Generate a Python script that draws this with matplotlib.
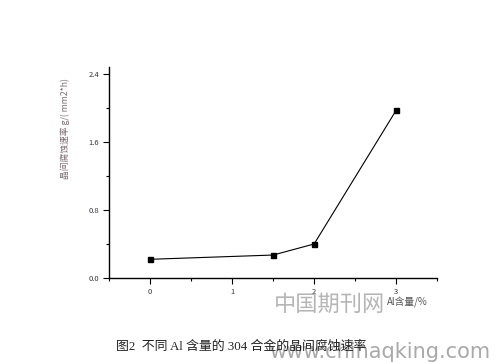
import numpy as np
import matplotlib
matplotlib.use("Agg")
import matplotlib.pyplot as plt

plt.rcParams["font.family"] = ["Noto Sans CJK SC", "DejaVu Sans"]

# Al含量 (%) 与 晶间腐蚀速率
al_content = [0, 1.5, 2, 3]
corrosion_rate = [0.22, 0.27, 0.40, 1.97]

fig = plt.figure(figsize=(5.03, 3.62), dpi=100)
ax = fig.add_axes([0.217, 0.232, 0.652, 0.583])

ax.plot(al_content, corrosion_rate, color="black", lw=0.8,
        marker="s", ms=3.6, mfc="black", mec="black")

ax.set_xlim(-0.49, 3.5)
ax.set_ylim(0, 2.48)
ax.set_xticks([0, 1, 2, 3])
ax.set_xticks(np.arange(-0.5, 3.51, 0.5), minor=True)
ax.set_yticks([0.0, 0.8, 1.6, 2.4])
ax.set_yticks(np.arange(0, 2.41, 0.4), minor=True)
ax.xaxis.set_major_formatter(plt.FuncFormatter(lambda v, p: f"{v:.0f}"))
ax.yaxis.set_major_formatter(plt.FuncFormatter(lambda v, p: f"{v:.1f}"))

for s in ["top", "right"]:
    ax.spines[s].set_visible(False)
for s in ["left", "bottom"]:
    ax.spines[s].set_linewidth(1.0)

ax.tick_params(axis="both", which="major", direction="out", length=4, width=0.8,
               labelsize=5.5, labelcolor="#333344", pad=3)
ax.tick_params(axis="both", which="minor", direction="out", length=2.5, width=0.8)

ax.set_ylabel("晶间腐蚀速率 g/( mm2*h)", fontsize=6.3, color="#7a6a70", labelpad=4)
ax.yaxis.set_label_coords(-0.12, 0.71)

fig.text(0.77, 0.155, "Al含量/%", fontsize=7, color="#555555", ha="left")

# watermark
fig.text(0.545, 0.14, "中国期刊网", fontsize=16, color="#a8a8a8", alpha=0.85)
fig.text(0.535, 0.012, "www.chinaqking.com", fontsize=15, color="#9a9a9a",
         family=["DejaVu Sans"], alpha=0.85)

fig.text(0.48, 0.035, "图2  不同 Al 含量的 304 合金的晶间腐蚀速率", fontsize=9.3,
         ha="center", color="#222222",
         family=["Liberation Serif", "Noto Sans CJK SC"])

fig.savefig("out.png", dpi=100)
